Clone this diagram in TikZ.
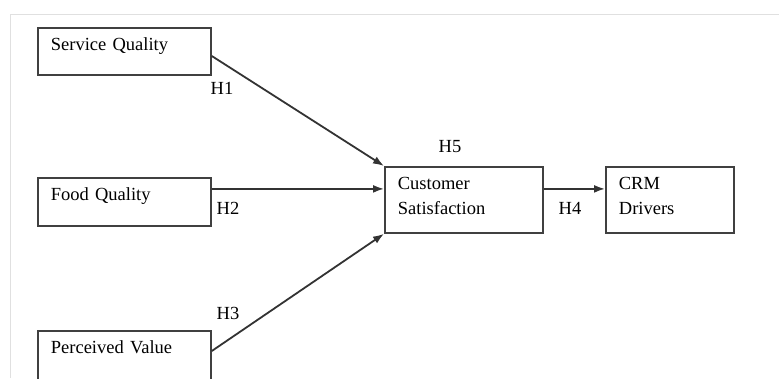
\documentclass[tikz,border=0pt]{standalone}
\usepackage{fontspec}
\setmainfont{Liberation Serif}
\usetikzlibrary{arrows.meta}

\tikzset{
	box/.style={draw=black!75, line width=1.8pt, anchor=north west, align=left,
		inner xsep=13pt, inner ysep=0pt, font=\fontsize{18.5}{25}\selectfont},
	path/.style={draw=black!80, line width=1.8pt, -{Latex[length=11pt,width=8pt]}},
	hyp/.style={font=\fontsize{18.5}{20}\selectfont}
}

\begin{document}
\begin{tikzpicture}[x=1pt, y=-1pt]
	\useasboundingbox (0,0) rectangle (779,378);
	\clip (0,0) rectangle (779,378);
	% light frame of the screenshot
	\draw[black!12, line width=1pt] (779,14) -- (10,14) -- (10,378);

	% constructs
	\node (sq) [box, text width=147pt, minimum height=47pt, text depth=15pt] at (37,27) {Service Quality};
	\node (fq) [box, text width=147pt, minimum height=48pt, text depth=15pt] at (37,177) {Food Quality};
	\node (pv) [box, text width=147pt, minimum height=60pt, text depth=27pt] at (37,330) {Perceived Value};
	\node (cs) [box, text width=132pt, minimum height=66pt, text depth=33pt] at (384,166) {Customer\\Satisfaction};
	\node (crm) [box, text width=102pt, minimum height=66pt, text depth=33pt] at (605,166) {CRM\\Drivers};

	% hypotheses
	\draw[path] ([yshift=-29pt]sq.north east) -- (cs.north west);
	\draw[path] ([yshift=11pt]cs.west -| fq.east) -- ([yshift=11pt]cs.west);
	\draw[path] ([yshift=-21pt]pv.north east) -- (cs.south west);
	\draw[path] ([yshift=11pt]cs.east) -- ([yshift=11pt]crm.west);

	\node (h1) [hyp] at (222,88) {H1};
	\node (h2) [hyp] at (228,208) {H2};
	\node (h3) [hyp] at (228,313) {H3};
	\node (h5) [hyp] at (450,147) {H5};
	\node (h4) [hyp] at (570,208) {H4};
\end{tikzpicture}
\end{document}
